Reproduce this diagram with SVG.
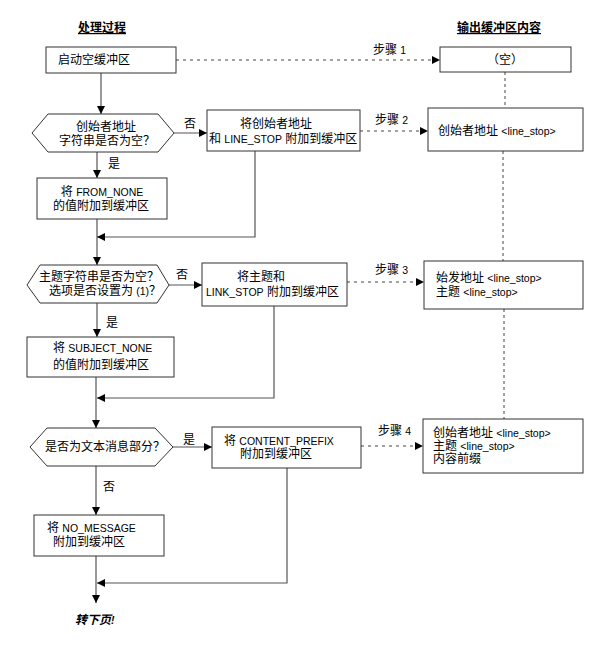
<svg xmlns="http://www.w3.org/2000/svg" width="601" height="657" viewBox="0 0 601 657">
<defs>
<marker id="ah" markerWidth="9" markerHeight="8" refX="8" refY="4" orient="auto" markerUnits="userSpaceOnUse">
<path d="M0,0 L8,4 L0,8 z" fill="#000"/>
</marker>
</defs>
<style>
text{font-family:"Liberation Sans","Noto Sans CJK SC",sans-serif;font-size:12px;fill:#000}
.l{font-size:10.5px}
.t{font-weight:bold;text-decoration:underline}
.box{fill:#fff;stroke:#333;stroke-width:1}
.flow{fill:none;stroke:#555;stroke-width:1.2}
.step{fill:none;stroke:#444;stroke-width:1;stroke-dasharray:3,4}
.vert{fill:none;stroke:#444;stroke-width:1;stroke-dasharray:3,3}
</style>
<text class="t" x="102" y="32" text-anchor="middle">处理过程</text>
<text class="t" x="499" y="32" text-anchor="middle">输出缓冲区内容</text>

<g id="connectors">
<path class="flow" d="M101,73 V114" marker-end="url(#ah)"/>
<path class="flow" d="M174,133 H207" marker-end="url(#ah)"/>
<path class="flow" d="M97,152 V178" marker-end="url(#ah)"/>
<path class="flow" d="M97,219 V265" marker-end="url(#ah)"/>
<path class="flow" d="M255,151 V237 H97" marker-end="url(#ah)"/>
<path class="flow" d="M169,285 H202" marker-end="url(#ah)"/>
<path class="flow" d="M97,303 V337" marker-end="url(#ah)"/>
<path class="flow" d="M96,377 V428" marker-end="url(#ah)"/>
<path class="flow" d="M274,306 V398 H97" marker-end="url(#ah)"/>
<path class="flow" d="M173,447 H212" marker-end="url(#ah)"/>
<path class="flow" d="M96,466 V515" marker-end="url(#ah)"/>
<path class="flow" d="M96,556 V603" marker-end="url(#ah)"/>
<path class="flow" d="M287,468 V583 H97" marker-end="url(#ah)"/>
<path class="step" d="M176,60 H440" marker-end="url(#ah)"/>
<path class="step" d="M360,131 H428" marker-end="url(#ah)"/>
<path class="step" d="M347,282 H424" marker-end="url(#ah)"/>
<path class="step" d="M361,446 H423" marker-end="url(#ah)"/>
<path class="vert" d="M505,72 V108"/>
<path class="vert" d="M503,151 V261"/>
<path class="vert" d="M504,309 V419"/>
<text x="190" y="128" text-anchor="middle">否</text>
<text x="114" y="168" text-anchor="middle">是</text>
<text x="182" y="279" text-anchor="middle">否</text>
<text x="112" y="327" text-anchor="middle">是</text>
<text x="189" y="444" text-anchor="middle">是</text>
<text x="109" y="491" text-anchor="middle">否</text>
<text x="373" y="54">步骤 <tspan class="l">1</tspan></text>
<text x="375" y="124">步骤 <tspan class="l">2</tspan></text>
<text x="375" y="274">步骤 <tspan class="l">3</tspan></text>
<text x="378" y="435">步骤 <tspan class="l">4</tspan></text>
</g>

<g id="start">
<rect class="box" x="46" y="47" width="130" height="26"/>
<text x="58" y="64">启动空缓冲区</text>
</g>
<g id="dec1">
<polygon class="box" points="32,133 48,114 158,114 174,133 158,152 48,152"/>
<text x="106" y="131" text-anchor="middle">创始者地址</text>
<text x="107" y="145" text-anchor="middle">字符串是否为空？</text>
</g>
<g id="addFrom">
<rect class="box" x="207" y="110" width="153" height="41"/>
<text x="240" y="128">将创始者地址</text>
<text x="209" y="143">和 <tspan class="l">LINE_STOP</tspan> 附加到缓冲区</text>
</g>
<g id="fromNone">
<rect class="box" x="37" y="178" width="130" height="41"/>
<text x="102" y="196" text-anchor="middle">将 <tspan class="l">FROM_NONE</tspan></text>
<text x="101" y="210" text-anchor="middle">的值附加到缓冲区</text>
</g>
<g id="dec2">
<polygon class="box" points="27,285 40,265 157,265 169,285 157,303 40,303"/>
<text x="99" y="281" text-anchor="middle">主题字符串是否为空？</text>
<text x="105" y="295" text-anchor="middle">选项是否设置为 <tspan class="l">(1)</tspan>？</text>
</g>
<g id="addSubject">
<rect class="box" x="202" y="263" width="145" height="43"/>
<text x="237" y="281">将主题和</text>
<text x="206" y="296"><tspan class="l">LINK_STOP</tspan> 附加到缓冲区</text>
</g>
<g id="subjectNone">
<rect class="box" x="27" y="337" width="147" height="40"/>
<text x="53" y="352">将 <tspan class="l">SUBJECT_NONE</tspan></text>
<text x="53" y="369">的值附加到缓冲区</text>
</g>
<g id="dec3">
<polygon class="box" points="30,447 47,428 155,428 173,447 155,466 47,466"/>
<text x="105" y="451" text-anchor="middle">是否为文本消息部分？</text>
</g>
<g id="addPrefix">
<rect class="box" x="212" y="427" width="149" height="41"/>
<text x="224" y="445">将 <tspan class="l">CONTENT_PREFIX</tspan></text>
<text x="240" y="458">附加到缓冲区</text>
</g>
<g id="noMessage">
<rect class="box" x="34" y="515" width="130" height="41"/>
<text x="47" y="532">将 <tspan class="l">NO_MESSAGE</tspan></text>
<text x="53" y="546">附加到缓冲区</text>
</g>
<g id="next">
<text x="75" y="624" font-weight="bold" font-style="italic">转下页<tspan class="l">!</tspan></text>
</g>
<g id="buf1">
<rect class="box" x="440" y="47" width="131" height="25"/>
<text x="505" y="64" text-anchor="middle">（空）</text>
</g>
<g id="buf2">
<rect class="box" x="428" y="108" width="155" height="43"/>
<text x="438" y="135">创始者地址 <tspan class="l">&lt;line_stop&gt;</tspan></text>
</g>
<g id="buf3">
<rect class="box" x="424" y="261" width="159" height="48"/>
<text x="436" y="282">始发地址 <tspan class="l">&lt;line_stop&gt;</tspan></text>
<text x="436" y="296">主题 <tspan class="l">&lt;line_stop&gt;</tspan></text>
</g>
<g id="buf4">
<rect class="box" x="423" y="419" width="160" height="54"/>
<text x="433" y="437">创始者地址 <tspan class="l">&lt;line_stop&gt;</tspan></text>
<text x="433" y="450">主题 <tspan class="l">&lt;line_stop&gt;</tspan></text>
<text x="433" y="463">内容前缀</text>
</g>
</svg>
